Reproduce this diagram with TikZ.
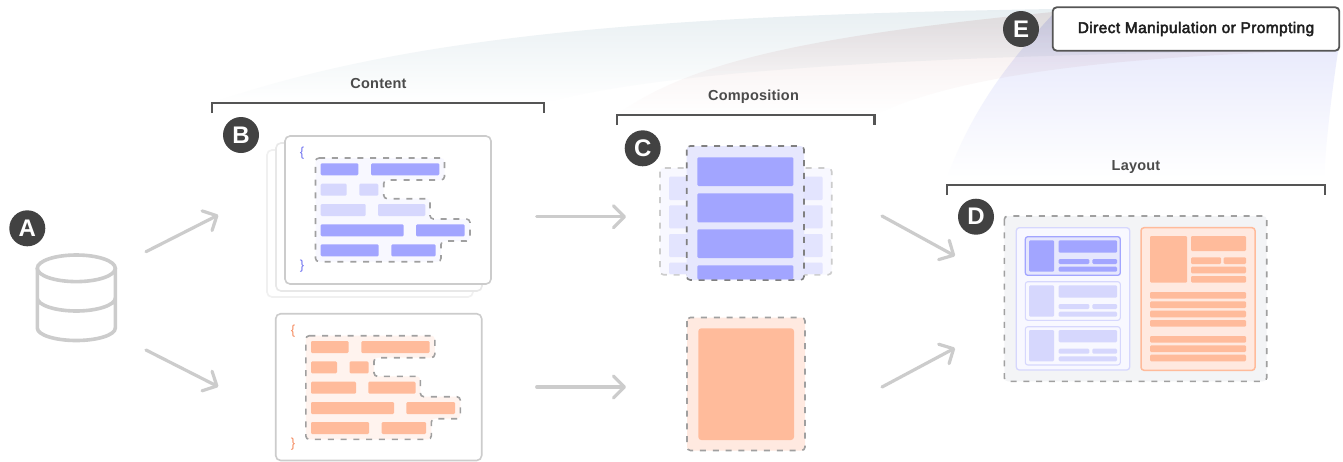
\documentclass[tikz,border=0pt]{standalone}
\usepackage{fontspec}
\setmainfont{Liberation Sans}
\newfontfamily\medfont[LetterSpace=1.5,BoldFont={Liberation Sans Bold}]{Liberation Sans}
\newfontfamily\promptfont[FakeBold=3,LetterSpace=2.5]{Liberation Sans}
\usetikzlibrary{arrows.meta,calc}
\definecolor{barD}{HTML}{A2A5FF}
\definecolor{barL}{HTML}{D6D7FD}
\definecolor{barE}{HTML}{E3E4FE}
\definecolor{braceB}{HTML}{6F72F0}
\definecolor{orangeB}{HTML}{FFBB9B}
\definecolor{orangeF}{HTML}{FFF3EE}
\definecolor{orangeM}{HTML}{FFE9E0}
\definecolor{orangeT}{HTML}{F58A5E}
\definecolor{violetF}{HTML}{F8F8FF}
\definecolor{violetM}{HTML}{E6E7FD}
\definecolor{panelG}{HTML}{F3F4F6}
\definecolor{dark}{HTML}{424242}
\definecolor{bracketC}{HTML}{555555}
\definecolor{arrowC}{HTML}{CCCCCC}
\definecolor{dashC}{HTML}{A0A0A0}
\tikzset{
  x=1pt,y=-1pt,
  tag/.style={circle,fill=dark,text=white,minimum size=36pt,inner sep=0pt,font=\fontsize{24}{24}\selectfont\bfseries},
  head/.style={text=dark!95,anchor=base,font=\fontsize{14.5}{14.5}\selectfont\medfont\bfseries,inner sep=0pt},
  bracket/.style={draw=bracketC,line width=2.4pt,line join=miter},
  flow/.style={draw=arrowC,line width=3.2pt,line cap=round,-{Straight Barb[length=11pt,width=22pt,round]}},
  dash box/.style={draw=dashC,line width=1.6pt,dash pattern=on 6pt off 6.8pt,rounded corners=3.5pt},
  bar/.style={rounded corners=1.2pt,fill=#1},
  card/.style={draw=#1,line width=1.6pt,fill=white,rounded corners=5pt},
  brace/.style={text=#1,font=\fontsize{13}{13}\selectfont,inner sep=0pt},
}
\newcommand{\cardrows}[1]{%
  \path[dash box,fill=#1] (315.5,158)--(444.5,158)--(444.5,180)--(383.7,180)--(383.7,198.7)--(430,198.7)--(430,219)--(470,219)--(470,241)--(441,241)--(441,261.7)--(315.5,261.7)--cycle;
}
\newcommand{\barrows}[2]{%
  \fill[bar=#1] (320.7,163.3) rectangle (358.3,175.3);
  \fill[bar=#1] (371,163.3) rectangle (439.3,175.3);
  \fill[bar=#2] (320.7,183.7) rectangle (346.7,195.7);
  \fill[bar=#2] (359.3,183.7) rectangle (378.3,195.7);
  \fill[bar=#2] (320.7,204) rectangle (365.7,216);
  \fill[bar=#2] (378,204) rectangle (425.3,216);
  \fill[bar=#1] (320.7,224.3) rectangle (403.7,236.3);
  \fill[bar=#1] (416,224.3) rectangle (464.7,236.3);
  \fill[bar=#1] (320.7,244.3) rectangle (378.7,256.3);
  \fill[bar=#1] (391.3,244.3) rectangle (435.7,256.3);
}
\newcommand{\minicard}[2]{% y-offset, bar colour
  \begin{scope}[yshift=-#1pt]
  \fill[bar=#2] (1029,240.3) rectangle (1054,271.7);
  \fill[bar=#2] (1058.7,240.3) rectangle (1117,252.7);
  \fill[bar=#2] (1058.7,259) rectangle (1089.3,264);
  \fill[bar=#2] (1092.3,259) rectangle (1117,264);
  \fill[bar=#2] (1058.7,266.7) rectangle (1117,271.7);
  \end{scope}
}
\begin{document}
\begin{tikzpicture}
\useasboundingbox (0,0) rectangle (1343,461);
\fill[white] (0,0) rectangle (1343,461);
% ribbons
\definecolor{ribA}{HTML}{E8EFF2}\definecolor{ribB}{HTML}{E0F2FC}
\definecolor{ribC}{HTML}{F4E9E9}\definecolor{ribD}{HTML}{FCEAEA}
\definecolor{ribE}{HTML}{E3E5FB}
\begin{scope}[blend mode=multiply]
\shade[top color=ribA,middle color=ribB,bottom color=white]
  (212,103) .. controls (420,30) and (700,15) .. (1053,9) -- (1339,50)
  .. controls (1100,53) and (700,60) .. (544,103) -- cycle;
\shade[top color=ribC,middle color=ribD,bottom color=white]
  (617,115) .. controls (690,60) and (820,35) .. (1053,12) -- (1339,50)
  .. controls (1180,55) and (980,65) .. (874,115) -- cycle;
\shade[top color=ribE,bottom color=white]
  (947,178) .. controls (975,100) and (1020,50) .. (1053,14) -- (1339,45)
  .. controls (1332,90) and (1326,140) .. (1324,178) -- cycle;
\end{scope}
% brackets
\draw[bracket] (212,113)--(212,103)--(544,103)--(544,113);
\draw[bracket] (616.7,125)--(616.7,115)--(874.3,115)--(874.3,125);
\draw[bracket] (946.7,195)--(946.7,185)--(1324.7,185)--(1324.7,195);
\node[head] (lcontent) at (378.5,88) {Content};
\node[head] (lcomp) at (753.5,100) {Composition};
\node[head] (llayout) at (1136,170) {Layout};
% database
\draw[arrowC,line width=3.6pt]
  (76.3,268.3) ellipse [x radius=39,y radius=13.3];
\draw[arrowC,line width=3.6pt,line cap=round]
  (37.3,268.3) -- (37.3,328) .. controls (37.3,335) and (55,340.5) .. (76.3,340.5) .. controls (97.6,340.5) and (115.3,335) .. (115.3,328) -- (115.3,268.3)
  (37.3,298) .. controls (37.3,305) and (55,311) .. (76.3,311) .. controls (97.6,311) and (115.3,305) .. (115.3,298);
% arrows
\coordinate (a1s) at (146,251.7); \coordinate (a1e) at (218.3,215);
\coordinate (a2s) at (146,350);   \coordinate (a2e) at (218.3,386.7);
\coordinate (a3s) at (536.7,216.7); \coordinate (a3e) at (626,216.7);
\coordinate (a4s) at (536.7,387); \coordinate (a4e) at (626,387);
\coordinate (a5s) at (882,216); \coordinate (a5e) at (955,256);
\coordinate (a6s) at (882,387); \coordinate (a6e) at (955,348);
\foreach \i in {1,...,6} \draw[flow] (a\i s) -- (a\i e);
% B cards
\draw[card=black!6] (267,150) rectangle (473,297);
\draw[card=black!9] (276,143) rectangle (482,291);
\draw[card=arrowC] (285,136) rectangle (491,284);
\cardrows{violetF}
\barrows{barD}{barL}
\node[brace=braceB] (b1) at (302,153) {\{};
\node[brace=braceB] (b2) at (302,266) {\}};
% orange card
\draw[card=arrowC] (275.7,313.7) rectangle (481.7,460.5);
\begin{scope}[xshift=-9.7pt,yshift=-177.7pt]
\cardrows{orangeF}
\barrows{orangeB}{orangeB}
\end{scope}
\node[brace=orangeT] (o1) at (293,331) {\{};
\node[brace=orangeT] (o2) at (293,444) {\}};
% C stack
\path[dash box,draw=black!20,fill=violetF] (660,168) rectangle (831.7,274.7);
\foreach \a/\b in {176.7/200,205.3/228.3,234/257,262.7/274}{
  \fill[bar=barE] (669,\a) rectangle (822.7,\b);}
\path[dash box,draw=black!50,fill=violetM] (686.7,146) rectangle (804,280);
\foreach \a/\b in {157.3/186,193.3/222.3,229.3/258,265.3/279.3}{
  \fill[bar=barD] (697.3,\a) rectangle (793.3,\b);}
\path[dash box,fill=orangeM] (687,317.5) rectangle (805,450.5);
\fill[bar=orangeB,rounded corners=3pt] (698.3,328.3) rectangle (794,440);
% D
\path[dash box,fill=panelG] (1004.3,216) rectangle (1266.7,381.3);
\filldraw[draw=barL,fill=violetF,line width=1.3pt,rounded corners=3pt] (1016.3,227.7) rectangle (1129.7,370);
\filldraw[draw=barD,fill=violetM,line width=1.3pt,rounded corners=2.5pt] (1025.3,236.7) rectangle (1120.3,275.3);
\filldraw[draw=barL,fill=violetF,line width=1.1pt,rounded corners=2.5pt] (1025.3,281.7) rectangle (1120.3,320.3);
\filldraw[draw=barL,fill=violetF,line width=1.1pt,rounded corners=2.5pt] (1025.3,326.7) rectangle (1120.3,365);
\minicard{0}{barD}
\minicard{45}{barL}
\minicard{89.7}{barL}
\filldraw[draw=orangeB,fill=orangeM,line width=1.5pt,rounded corners=3pt] (1141,227.7) rectangle (1255,370.3);
\fill[bar=orangeB] (1150,236) rectangle (1187,282.7);
\fill[bar=orangeB] (1191,236) rectangle (1246,251);
\fill[bar=orangeB] (1191,257.3) rectangle (1221,264);
\fill[bar=orangeB] (1223.7,257.3) rectangle (1246,264);
\fill[bar=orangeB] (1191,266.7) rectangle (1246,273.3);
\fill[bar=orangeB] (1191,276) rectangle (1246,282.7);
\foreach \a in {292,301.3,310.7,320,336,345.3,354.7}{
  \fill[bar=orangeB] (1150,\a) rectangle (1246,\a+6.7);}
% tags
\node[tag] (A) at (27.3,228.3) {A};
\node[tag] (B) at (241,135) {B};
\node[tag] (C) at (642.7,148.3) {C};
\node[tag] (D) at (976,216.7) {D};
\node[tag] (E) at (1021,29) {E};
\node[draw=bracketC,fill=white,line width=1.8pt,rounded corners=4pt,minimum width=286.6pt,minimum height=43.4pt,inner sep=0pt,text=black!88,font=\fontsize{15.5}{15.5}\selectfont\promptfont] (prompt) at (1196,29) {Direct Manipulation or Prompting};
\end{tikzpicture}
\end{document}
